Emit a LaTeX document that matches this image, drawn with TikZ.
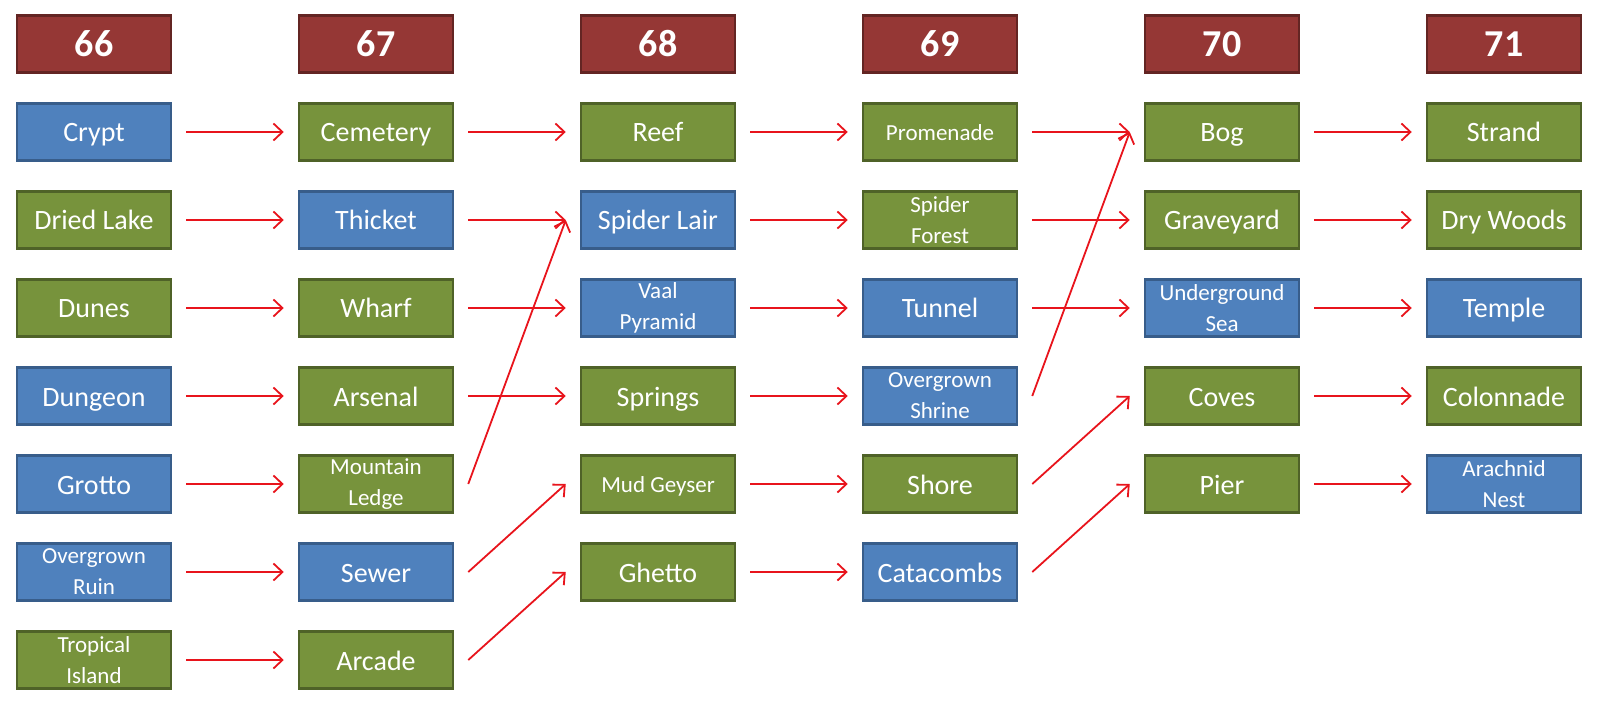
\documentclass[tikz,border=0pt]{standalone}
\usepackage{fontspec}
\setmainfont{Carlito}
\usepackage{xcolor}
\usepackage{tikz}
\usetikzlibrary{arrows.meta}
\usetikzlibrary{positioning}

\definecolor{areablue}{RGB}{79,129,189}
\definecolor{areablueline}{RGB}{56,93,138}
\definecolor{areagreen}{RGB}{119,147,60}
\definecolor{areagreenline}{RGB}{79,98,40}
\definecolor{levelred}{RGB}{149,55,53}
\definecolor{levelredline}{RGB}{99,37,35}
\definecolor{linkred}{RGB}{232,20,28}

\begin{document}
\begin{tikzpicture}[x=1pt,y=1pt,yscale=-1,
  area/.style={rectangle,draw,line width=2.5pt,minimum width=154pt,minimum height=57pt,inner sep=0pt,
    text=white,align=center,font=\fontsize{28}{30}\selectfont,text height=27pt,text depth=7pt},
  bluearea/.style={area,fill=areablue,draw=areablueline},
  greenarea/.style={area,fill=areagreen,draw=areagreenline},
  smalltext/.style={font=\fontsize{23}{31}\selectfont,text height=,text depth=},
  smallone/.style={font=\fontsize{23}{25}\selectfont,text height=23pt,text depth=6pt},
  level/.style={area,fill=levelred,draw=levelredline,font=\bfseries\fontsize{38}{40}\selectfont,
    text height=,text depth=},
  link/.style={draw=linkred,line width=1.8pt,-{Straight Barb[length=9pt,width=17pt]}}]
\useasboundingbox (0,0) rectangle (1600,708);

% Level headers
\node [level] (l66) at (94,44) {66};
\node [level] (l67) at (376,44) {67};
\node [level] (l68) at (658,44) {68};
\node [level] (l69) at (940,44) {69};
\node [level] (l70) at (1222,44) {70};
\node [level] (l71) at (1504,44) {71};

% Level 66
\node [bluearea] (a1) at (94,132) {Crypt};
\node [greenarea] (a2) at (94,220) {Dried Lake};
\node [greenarea] (a3) at (94,308) {Dunes};
\node [bluearea] (a4) at (94,396) {Dungeon};
\node [bluearea] (a5) at (94,484) {Grotto};
\node [bluearea,smalltext] (a6) at (94,572) {Overgrown\\Ruin};
\node [greenarea,smalltext] (a7) at (94,660) {Tropical\\Island};

% Level 67
\node [greenarea] (b1) at (376,132) {Cemetery};
\node [bluearea] (b2) at (376,220) {Thicket};
\node [greenarea] (b3) at (376,308) {Wharf};
\node [greenarea] (b4) at (376,396) {Arsenal};
\node [greenarea,smalltext] (b5) at (376,484) {Mountain\\Ledge};
\node [bluearea] (b6) at (376,572) {Sewer};
\node [greenarea] (b7) at (376,660) {Arcade};

% Level 68
\node [greenarea] (c1) at (658,132) {Reef};
\node [bluearea] (c2) at (658,220) {Spider Lair};
\node [bluearea,smalltext] (c3) at (658,308) {Vaal\\Pyramid};
\node [greenarea] (c4) at (658,396) {Springs};
\node [greenarea,smallone] (c5) at (658,484) {Mud Geyser};
\node [greenarea] (c6) at (658,572) {Ghetto};

% Level 69
\node [greenarea,smallone] (d1) at (940,132) {Promenade};
\node [greenarea,smalltext] (d2) at (940,220) {Spider\\Forest};
\node [bluearea] (d3) at (940,308) {Tunnel};
\node [bluearea,smalltext] (d4) at (940,396) {Overgrown\\Shrine};
\node [greenarea] (d5) at (940,484) {Shore};
\node [bluearea] (d6) at (940,572) {Catacombs};

% Level 70
\node [greenarea] (e1) at (1222,132) {Bog};
\node [greenarea] (e2) at (1222,220) {Graveyard};
\node [bluearea,smalltext] (e3) at (1222,308) {Underground\\Sea};
\node [greenarea] (e4) at (1222,396) {Coves};
\node [greenarea] (e5) at (1222,484) {Pier};

% Level 71
\node [greenarea] (f1) at (1504,132) {Strand};
\node [greenarea] (f2) at (1504,220) {Dry Woods};
\node [bluearea] (f3) at (1504,308) {Temple};
\node [greenarea] (f4) at (1504,396) {Colonnade};
\node [bluearea,smalltext] (f5) at (1504,484) {Arachnid\\Nest};

% 66 -> 67
\draw [link] ([xshift=14pt]a1.east) -- ([xshift=-14pt]b1.west);
\draw [link] ([xshift=14pt]a2.east) -- ([xshift=-14pt]b2.west);
\draw [link] ([xshift=14pt]a3.east) -- ([xshift=-14pt]b3.west);
\draw [link] ([xshift=14pt]a4.east) -- ([xshift=-14pt]b4.west);
\draw [link] ([xshift=14pt]a5.east) -- ([xshift=-14pt]b5.west);
\draw [link] ([xshift=14pt]a6.east) -- ([xshift=-14pt]b6.west);
\draw [link] ([xshift=14pt]a7.east) -- ([xshift=-14pt]b7.west);

% 67 -> 68
\draw [link] ([xshift=14pt]b1.east) -- ([xshift=-14pt]c1.west);
\draw [link] ([xshift=14pt]b2.east) -- ([xshift=-14pt]c2.west);
\draw [link] ([xshift=14pt]b3.east) -- ([xshift=-14pt]c3.west);
\draw [link] ([xshift=14pt]b4.east) -- ([xshift=-14pt]c4.west);
\draw [link] ([xshift=14pt]b5.east) -- ([xshift=-14pt]c2.west);
\draw [link] ([xshift=14pt]b6.east) -- ([xshift=-14pt]c5.west);
\draw [link] ([xshift=14pt]b7.east) -- ([xshift=-14pt]c6.west);

% 68 -> 69
\draw [link] ([xshift=14pt]c1.east) -- ([xshift=-14pt]d1.west);
\draw [link] ([xshift=14pt]c2.east) -- ([xshift=-14pt]d2.west);
\draw [link] ([xshift=14pt]c3.east) -- ([xshift=-14pt]d3.west);
\draw [link] ([xshift=14pt]c4.east) -- ([xshift=-14pt]d4.west);
\draw [link] ([xshift=14pt]c5.east) -- ([xshift=-14pt]d5.west);
\draw [link] ([xshift=14pt]c6.east) -- ([xshift=-14pt]d6.west);

% 69 -> 70
\draw [link] ([xshift=14pt]d1.east) -- ([xshift=-14pt]e1.west);
\draw [link] ([xshift=14pt]d2.east) -- ([xshift=-14pt]e2.west);
\draw [link] ([xshift=14pt]d3.east) -- ([xshift=-14pt]e3.west);
\draw [link] ([xshift=14pt]d4.east) -- ([xshift=-14pt]e1.west);
\draw [link] ([xshift=14pt]d5.east) -- ([xshift=-14pt]e4.west);
\draw [link] ([xshift=14pt]d6.east) -- ([xshift=-14pt]e5.west);

% 70 -> 71
\draw [link] ([xshift=14pt]e1.east) -- ([xshift=-14pt]f1.west);
\draw [link] ([xshift=14pt]e2.east) -- ([xshift=-14pt]f2.west);
\draw [link] ([xshift=14pt]e3.east) -- ([xshift=-14pt]f3.west);
\draw [link] ([xshift=14pt]e4.east) -- ([xshift=-14pt]f4.west);
\draw [link] ([xshift=14pt]e5.east) -- ([xshift=-14pt]f5.west);

\end{tikzpicture}
\end{document}
